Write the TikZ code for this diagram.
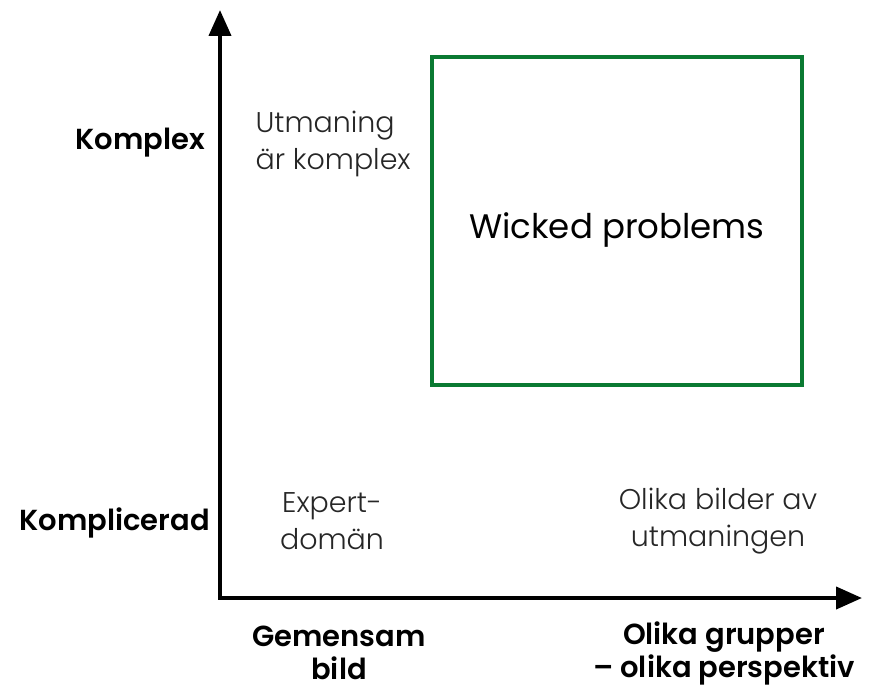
\documentclass[tikz,border=0pt]{standalone}
\usepackage{fontspec}
\setmainfont{Poppins}[UprightFont={* Light},BoldFont={* SemiBold}]
\newfontfamily\regfont{Poppins}
\usetikzlibrary{arrows.meta}
\definecolor{boxgreen}{RGB}{10,122,50}
\begin{document}
\begin{tikzpicture}[x=1pt,y=-1pt,
  axis/.style={line width=4pt,-{Triangle[length=26pt,width=22pt]}},
  quad/.style={font=\fontsize{28.5}{37}\selectfont,align=center,text=black!85},
  axlabel/.style={font=\fontsize{29}{33}\selectfont\bfseries,align=center,inner sep=0pt}]
\useasboundingbox (0,0) rectangle (872,690);
\coordinate (origin) at (220,598);
\coordinate (ytip) at (220,10);
\coordinate (xtip) at (862,598);
\draw[axis] ([yshift=2pt]origin) -- (ytip);
\draw[axis] ([xshift=-2pt]origin) -- (xtip);
\node[draw=boxgreen,line width=4pt,minimum width=370pt,minimum height=328pt,inner sep=0pt] (wicked) at (617,221) {};
\node[font=\regfont\fontsize{34}{40}\selectfont] (wtext) at (617,230) {Wicked problems};
\node[axlabel,anchor=east] (komplex) at (205,143) {Komplex};
\node[axlabel,anchor=east] (komplicerad) at (210,523) {Komplicerad};
\node[axlabel] (gemensam) at (339,653) {Gemensam\\bild};
\node[axlabel] (olika) at (724,653) {Olika grupper\\– olika perspektiv};
\node[quad,anchor=west,align=left] (utmaning) at (252,144) {Utmaning\\är komplex};
\node[quad] (expert) at (332,521) {Expert-\\domän};
\node[quad] (bilder) at (718,521) {Olika bilder av\\utmaningen};
\end{tikzpicture}
\end{document}
